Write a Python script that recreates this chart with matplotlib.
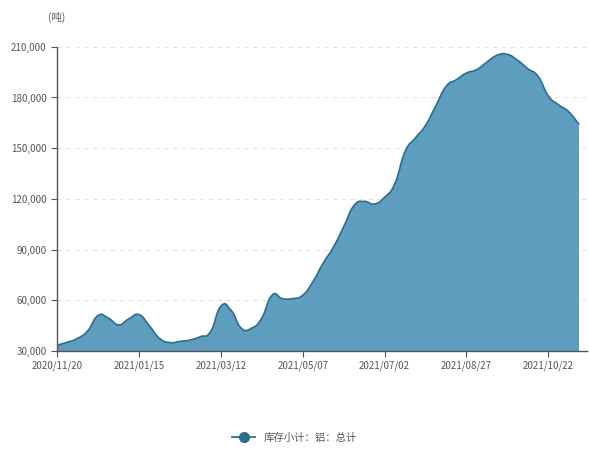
import numpy as np
import pandas as pd
import matplotlib
matplotlib.use("Agg")
import matplotlib.pyplot as plt
from matplotlib.path import Path
from matplotlib.patches import PathPatch
from matplotlib.lines import Line2D
from matplotlib.ticker import FuncFormatter

plt.rcParams['font.family'] = ['Noto Sans CJK SC', 'DejaVu Sans']

# weekly warehouse stock of aluminium (tonnes)
dates = pd.date_range("2020-11-20", periods=52, freq="7D")
stock = [33500, 35200, 37500, 42000, 51000, 49500, 45500, 49000, 51500, 45000,
         37500, 35000, 35700, 36500, 38500, 41500, 56500, 54000, 43500, 43500,
         49500, 63000, 61000, 61000, 63000, 71000, 82000, 91500, 103500, 116000,
         118500, 117000, 121000, 129000, 148000, 156000, 163500, 175000, 186500, 190500,
         194500, 196500, 201000, 205000, 205500, 202000, 197000, 192500, 181000, 175700,
         171500, 164000]
yticks = [30000, 60000, 90000, 120000, 150000, 180000, 210000]
tick_step = 8
series_name = "库存小计：铝：总计"

line_color = "#2c6c90"
fill_color = "#5e9dbe"


def smooth_path(x, y, s=0.25):
    # cubic bezier through every point, control points from neighbours
    pts = np.column_stack([x, y]).astype(float)
    n = len(pts)
    verts = [pts[0]]
    codes = [Path.MOVETO]
    for i in range(n - 1):
        p0 = pts[max(i - 1, 0)]
        p1 = pts[i]
        p2 = pts[i + 1]
        p3 = pts[min(i + 2, n - 1)]
        verts += [p1 + (p2 - p0) * s, p2 - (p3 - p1) * s, p2]
        codes += [Path.CURVE4] * 3
    return verts, codes


fig = plt.figure(figsize=(5.89, 4.5), dpi=100)
ax = fig.add_axes([0.097, 0.22, 0.9, 0.676])

x = np.arange(len(stock))
verts, codes = smooth_path(x, stock)

# filled area down to the axis floor
area_verts = verts + [(x[-1], yticks[0]), (x[0], yticks[0]), verts[0]]
area_codes = codes + [Path.LINETO, Path.LINETO, Path.CLOSEPOLY]
ax.add_patch(PathPatch(Path(area_verts, area_codes), facecolor=fill_color,
                       edgecolor="none", zorder=2))
ax.add_patch(PathPatch(Path(verts, codes), facecolor="none",
                       edgecolor=line_color, lw=1.2, zorder=3))

ax.set_xlim(0, 51.8)
ax.set_ylim(yticks[0], yticks[-1])
ax.set_yticks(yticks)
ax.yaxis.set_major_formatter(FuncFormatter(lambda v, p: f"{int(v):,}"))

tick_idx = list(range(0, len(dates), tick_step))
ax.set_xticks(tick_idx)
ax.set_xticklabels([dates[i].strftime("%Y/%m/%d") for i in tick_idx])

ax.yaxis.grid(True, linestyle=(0, (4, 4)), color="#e2e2e2", lw=0.8, zorder=0)
ax.set_axisbelow(True)
for side in ["top", "right"]:
    ax.spines[side].set_visible(False)
for side in ["left", "bottom"]:
    ax.spines[side].set_color("#555555")
    ax.spines[side].set_linewidth(1.0)
    ax.spines[side].set_zorder(4)
ax.tick_params(axis="both", labelsize=7, colors="#555555", length=4, width=0.8)
ax.tick_params(axis="x", pad=3)

fig.text(0.097, 0.962, "(吨)", fontsize=7.5, color="#555555", ha="center", va="center")

handle = Line2D([0], [0], color=line_color, lw=1.3, marker="o", markersize=7,
                markerfacecolor=line_color, markeredgecolor=line_color)
fig.legend([handle], [series_name], loc="center", bbox_to_anchor=(0.5, 0.027),
           frameon=False, fontsize=7.5, handlelength=2.2, labelcolor="#555555")

fig.savefig("out.png", dpi=100)
